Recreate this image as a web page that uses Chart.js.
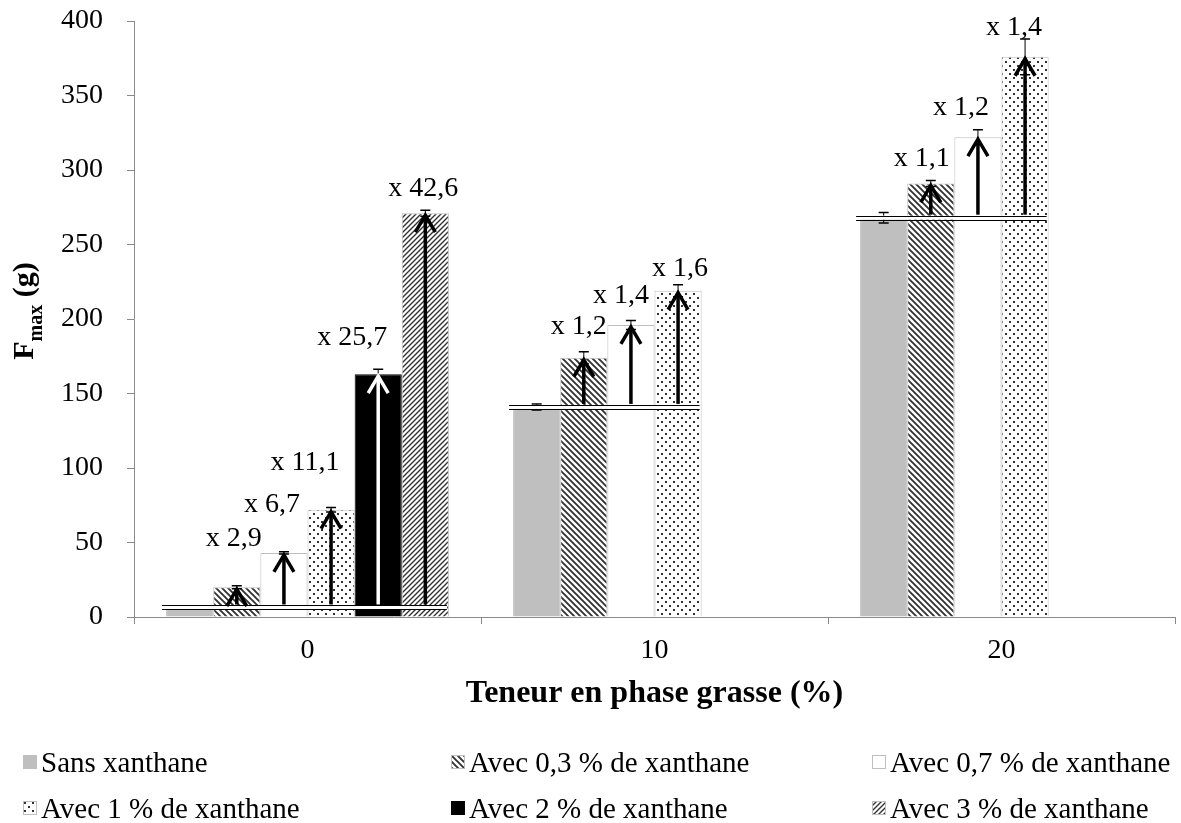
<!DOCTYPE html>
<html>
<head>
<meta charset="utf-8">
<script src="https://cdn.jsdelivr.net/npm/chart.js@4.4.0/dist/chart.umd.min.js"></script>
<style>
  html, body { margin: 0; padding: 0; background: #fff; }
  #wrap { position: relative; width: 1181px; height: 823px; }
  #legend { position: absolute; left: 0; top: 0; width: 1181px; height: 823px; pointer-events: none;
            font-family: 'Liberation Serif', 'Times New Roman', serif; font-size: 29px; color: #000; }
  .item { position: absolute; display: flex; align-items: center; white-space: nowrap; height: 32px; margin-top: -16px; }
  .item canvas { margin-right: 4px; }
</style>
</head>
<body>
<div id="wrap">
  <canvas id="chart" width="1181" height="823"></canvas>
  <div id="legend"></div>
</div>
<script>
// categories (fat content, %)
const categories = ['0', '10', '20'];
const seriesNames = ['Sans xanthane', 'Avec 0,3 % de xanthane', 'Avec 0,7 % de xanthane',
                     'Avec 1 % de xanthane', 'Avec 2 % de xanthane', 'Avec 3 % de xanthane'];

// Fmax (g) per series
const sansXanthane = [6.4, 141, 268];
const xanthane03   = [20, 174, 291];
const xanthane07   = [43, 196, 322];
const xanthane1    = [72, 219, 376];
const xanthane2    = [163, null, null];
const xanthane3    = [271, null, null];

// error bars
const errSans = [0.6, 2, 3.5];
const err03   = [1, 4, 2];
const err07   = [0.8, 3, 5];
const err1    = [1.5, 4, 12];
const err2    = [3.3, null, null];
const err3    = [2, null, null];

// increase factors vs. "sans xanthane"
const ratio03 = [2.9, 1.2, 1.1];
const ratio07 = [6.7, 1.4, 1.2];
const ratio1  = [11.1, 1.6, 1.4];
const ratio2  = [25.7, null, null];
const ratio3  = [42.6, null, null];

const yTicks = { min: 0, max: 400, step: 50 };

const FONT = "'Liberation Serif', 'Times New Roman', serif";
const GREY = '#bfbfbf';
const AXIS = '#8a8a8a';

// label placement (px from bar top-centre), per series then category
const labelNudge = [
  null,
  [[-3, -49], [-5, -31], [-9, -25]],
  [[-12, -48], [-10, -29], [-17, -30]],
  [[-26, -47], [2, -22], [-11, -29]],
  [[-26, -36], null, null],
  [[-2, -25], null, null]
];

function tile(size, draw) {
  const c = document.createElement('canvas');
  c.width = c.height = size;
  const x = c.getContext('2d');
  x.fillStyle = '#fff';
  x.fillRect(0, 0, size, size);
  draw(x, size);
  return c;
}
function hatch(back, s, lw) {
  return tile(s, (x, s) => {
    x.strokeStyle = '#333';
    x.lineWidth = lw;
    x.beginPath();
    if (back) {
      x.moveTo(0, 0); x.lineTo(s, s);
      x.moveTo(-2, s - 2); x.lineTo(2, s + 2);
      x.moveTo(s - 2, -2); x.lineTo(s + 2, 2);
    } else {
      x.moveTo(0, s); x.lineTo(s, 0);
      x.moveTo(-2, 2); x.lineTo(2, -2);
      x.moveTo(s - 2, s + 2); x.lineTo(s + 2, s - 2);
    }
    x.stroke();
  });
}
const dots = tile(8, (x) => {
  x.fillStyle = '#333';
  x.fillRect(1, 1, 2, 2);
  x.fillRect(5, 5, 2, 2);
});

const ctx = document.getElementById('chart').getContext('2d');
const tiles = [null, hatch(true, 6, 1.9), null, dots, null, hatch(false, 5, 1.4)];
const fills = [
  GREY,
  ctx.createPattern(tiles[1], 'repeat'),
  '#fff',
  ctx.createPattern(tiles[3], 'repeat'),
  '#000',
  ctx.createPattern(tiles[5], 'repeat')
];
const borders = [GREY, GREY, GREY, GREY, '#000', GREY];
const arrowColors = [null, '#000', '#000', '#000', '#fff', '#000'];

const values = [sansXanthane, xanthane03, xanthane07, xanthane1, xanthane2, xanthane3];
const errors = [errSans, err03, err07, err1, err2, err3];
const ratios = [null, ratio03, ratio07, ratio1, ratio2, ratio3];

const datasets = values.map((data, i) => ({
  label: seriesNames[i],
  data,
  backgroundColor: fills[i],
  borderColor: borders[i],
  borderWidth: 1
}));

const annotations = {
  id: 'annotations',
  afterDatasetsDraw(chart) {
    const { ctx, scales: { y } } = chart;
    ctx.save();

    // error bars
    datasets.forEach((d, di) => {
      chart.getDatasetMeta(di).data.forEach((bar, i) => {
        const v = d.data[i];
        if (v == null) return;
        const e = errors[di][i];
        const yt = y.getPixelForValue(v + e), yb = y.getPixelForValue(v - e);
        ctx.strokeStyle = '#000';
        ctx.lineWidth = 1;
        ctx.beginPath();
        ctx.moveTo(bar.x, yt); ctx.lineTo(bar.x, yb);
        ctx.stroke();
        ctx.lineWidth = 1.5;
        ctx.beginPath();
        ctx.moveTo(bar.x - 5, yt); ctx.lineTo(bar.x + 5, yt);
        ctx.moveTo(bar.x - 5, yb); ctx.lineTo(bar.x + 5, yb);
        ctx.stroke();
      });
    });

    categories.forEach((c, i) => {
      const yb = y.getPixelForValue(sansXanthane[i]);
      let left = Infinity, right = -Infinity;
      datasets.forEach((d, di) => {
        if (d.data[i] == null) return;
        const bar = chart.getDatasetMeta(di).data[i];
        left = Math.min(left, bar.x - bar.width / 2);
        right = Math.max(right, bar.x + bar.width / 2);
      });
      // double base line
      ctx.fillStyle = '#fff';
      ctx.fillRect(left - 4, yb - 2, right - left + 2, 4);
      ctx.strokeStyle = '#000';
      ctx.lineWidth = 1;
      ctx.beginPath();
      ctx.moveTo(left - 4, Math.round(yb - 2) + 0.5); ctx.lineTo(right - 2, Math.round(yb - 2) + 0.5);
      ctx.moveTo(left - 4, Math.round(yb + 2) + 0.5); ctx.lineTo(right - 2, Math.round(yb + 2) + 0.5);
      ctx.stroke();

      // arrows + factor labels
      datasets.forEach((d, di) => {
        if (di === 0 || d.data[i] == null) return;
        const bar = chart.getDatasetMeta(di).data[i];
        const top = y.getPixelForValue(d.data[i]);
        ctx.strokeStyle = arrowColors[di];
        ctx.lineWidth = 3.5;
        ctx.lineCap = 'butt';
        ctx.lineJoin = 'miter';
        ctx.beginPath();
        ctx.moveTo(bar.x, yb - 3); ctx.lineTo(bar.x, top + 2);
        ctx.stroke();
        ctx.beginPath();
        ctx.moveTo(bar.x - 10, top + 19); ctx.lineTo(bar.x, top + 2); ctx.lineTo(bar.x + 10, top + 19);
        ctx.stroke();

        const n = labelNudge[di][i];
        ctx.fillStyle = '#000';
        ctx.font = '28px ' + FONT;
        ctx.textAlign = 'center';
        ctx.textBaseline = 'middle';
        ctx.fillText('x ' + ratios[di][i].toFixed(1).replace('.', ','), bar.x + n[0], top + n[1]);
      });
    });

    // y axis title with subscript
    ctx.fillStyle = '#000';
    ctx.translate(33, 311);
    ctx.rotate(-Math.PI / 2);
    ctx.textAlign = 'left';
    ctx.textBaseline = 'alphabetic';
    const big = 'bold 30px ' + FONT, small = 'bold 20px ' + FONT;
    ctx.font = big; const wF = ctx.measureText('F').width, wG = ctx.measureText(' (g)').width;
    ctx.font = small; const wM = ctx.measureText('max').width;
    let x0 = -(wF + wM + wG) / 2;
    ctx.font = big; ctx.fillText('F', x0, 0);
    ctx.font = small; ctx.fillText('max', x0 + wF, 9);
    ctx.font = big; ctx.fillText(' (g)', x0 + wF + wM, 0);
    ctx.restore();
  }
};

new Chart(ctx, {
  type: 'bar',
  data: { labels: categories, datasets },
  options: {
    responsive: false,
    animation: false,
    layout: { padding: { left: 0, right: 6, top: 21, bottom: 110 } },
    datasets: { bar: { categoryPercentage: 0.815, barPercentage: 1 } },
    plugins: { legend: { display: false }, tooltip: { enabled: false } },
    scales: {
      x: {
        grid: { offset: true, drawOnChartArea: false, color: AXIS, tickLength: 7 },
        border: { color: AXIS },
        ticks: { color: '#000', font: { family: FONT, size: 28 }, padding: 10 },
        title: { display: true, text: 'Teneur en phase grasse (%)', color: '#000',
                 font: { family: FONT, size: 32, weight: 'bold' }, padding: { top: 0, bottom: 0 } },
        afterFit: s => { s.height = 96; s.paddingLeft = 0; s.paddingRight = 0; }
      },
      y: {
        min: yTicks.min, max: yTicks.max,
        ticks: { stepSize: yTicks.step, color: '#000', font: { family: FONT, size: 28 }, padding: 24 },
        grid: { drawOnChartArea: false, color: AXIS, tickLength: 7 },
        border: { color: AXIS },
        afterFit: s => { s.width = 134; s.paddingTop = 0; s.paddingBottom = 0; }
      }
    }
  },
  plugins: [annotations]
});

// legend (3 columns x 2 rows)
const legendSpots = [[23, 762], [451, 762], [872, 762], [23, 808], [451, 808], [872, 808]];
const legend = document.getElementById('legend');
seriesNames.forEach((name, i) => {
  const item = document.createElement('div');
  item.className = 'item';
  item.style.left = legendSpots[i][0] + 'px';
  item.style.top = legendSpots[i][1] + 'px';
  const sw = document.createElement('canvas');
  sw.width = sw.height = 14;
  const sx = sw.getContext('2d');
  sx.fillStyle = tiles[i] ? sx.createPattern(tiles[i], 'repeat') : fills[i];
  sx.fillRect(0, 0, 14, 14);
  sx.strokeStyle = borders[i];
  sx.strokeRect(0.5, 0.5, 13, 13);
  item.appendChild(sw);
  item.appendChild(document.createTextNode(name));
  legend.appendChild(item);
});
</script>
</body>
</html>
